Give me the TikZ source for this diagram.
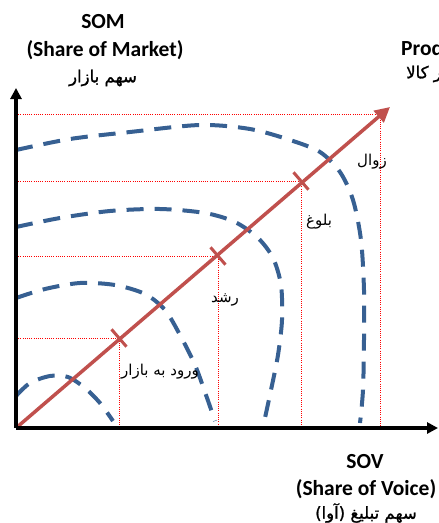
\documentclass[tikz,border=0pt]{standalone}
\usepackage{fontspec}
\setmainfont{Carlito}
\newfontfamily\fa[Script=Arabic]{DejaVu Sans}
\newfontfamily\fab[Script=Arabic,FakeBold=1.2]{DejaVu Sans}
\TeXXeTstate=1
\usetikzlibrary{arrows.meta,calc}
\definecolor{redl}{RGB}{192,80,77}
\definecolor{bluel}{RGB}{55,96,146}
\begin{document}
\begin{tikzpicture}[x=1pt,y=-1pt,
  axis/.style={line width=3.5pt,-{Triangle[length=11pt,width=11pt]}},
  redarrow/.style={draw=redl,line width=3.5pt,-{Triangle[length=15pt,width=15pt]}},
  guide/.style={draw=red,line width=0.9pt,dash pattern=on 1pt off 1.2pt},
  iso/.style={draw=bluel,line width=4pt,dash pattern=on 17pt off 11pt},
  tickmark/.style={draw=redl,line width=3pt},
  title/.style={font=\bfseries\fontsize{21.5}{24}\selectfont,inner sep=0pt},
  fatitle/.style={font=\fab\fontsize{16.5}{19}\selectfont,inner sep=0pt},
  stage/.style={font=\fa\fontsize{15}{17}\selectfont,inner sep=0pt}]
\useasboundingbox (0,0) rectangle (439,523);
% key points
\coordinate (O) at (16,428);
\coordinate (Ytip) at (16,88);
\coordinate (Xtip) at (438,428);
\coordinate (Rtip) at (390,107);
\coordinate (P1) at (119,338);
\coordinate (P2) at (218,256);
\coordinate (P3) at (301,181);
\coordinate (P4) at (380,114);
% dotted guides
\foreach \p in {P1,P2,P3,P4}{
  \draw[guide] (O |- \p) -- (\p) -- (\p |- O);
}
% iso curves
\draw[iso] plot[smooth] coordinates {(16,396) (30,383) (50,376) (68,377) (85,388) (100,403) (113,421)};
\draw[iso] plot[smooth] coordinates {(16,298) (45,289) (80,283) (115,285) (145,294) (165,310) (180,335) (195,365) (206,395) (215,421)};
\draw[iso] plot[smooth] coordinates {(16,227) (60,218) (110,211) (160,209) (205,213) (235,222) (258,238) (273,258) (281,285) (282,320) (278,355) (271,390) (263,427)};
\draw[iso] plot[smooth] coordinates {(16,150) (70,139) (130,132) (200,125) (250,129) (290,140) (320,152) (340,172) (353,200) (361,240) (364,290) (364,340) (363,390) (360,423)};
% red arrow and ticks
\draw[redarrow] (O) -- (Rtip);
\foreach \p in {P1,P2,P3}{
  \draw[tickmark] ($(\p)+(-7.5,-8.7)$) -- ($(\p)+(7.5,8.7)$);
}
% axes
\draw[axis] (O) -- (Ytip);
\draw[axis] (O) -- (Xtip);
% titles
\node[title] (som1) at (103,22) {SOM};
\node[title] (som2) at (105,50) {(Share of Market)};
\node[fatitle] (som3) at (103,78) {\beginR سهم بازار\endR};
\node[title,anchor=west] (plc1) at (401,50) {Product Life Cycle};
\node[fatitle,anchor=west] (plc2) at (406,74) {\beginR چرخه عمر کالا\endR};
\node[title] (sov1) at (365,462) {SOV};
\node[title] (sov2) at (366,489) {(Share of Voice)};
\node[fatitle] (sov3) at (366,513) {\beginR سهم تبلیغ (آوا)\endR};
% stage labels
\node[stage] (lz) at (372,162) {\beginR زوال\endR};
\node[stage] (lb) at (319,222) {\beginR بلوغ\endR};
\node[stage] (lr) at (225,300) {\beginR رشد\endR};
\node[stage] (lv) at (160,372) {\beginR ورود به بازار\endR};
\end{tikzpicture}
\end{document}
